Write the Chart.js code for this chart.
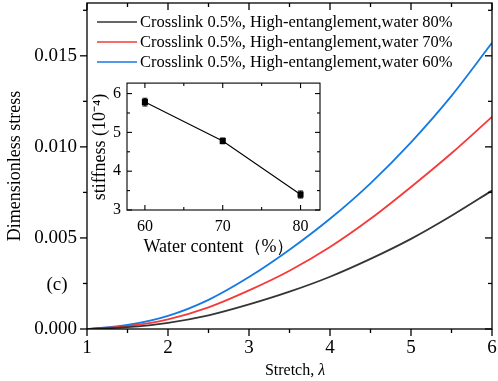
<!DOCTYPE html>
<html><head><meta charset="utf-8">
<script src="https://cdn.jsdelivr.net/npm/chart.js@4"></script>
<style>
html,body{margin:0;padding:0;background:#fff;}
#wrap{position:relative;width:498px;height:381px;overflow:hidden;}
#main{position:absolute;left:0;top:0;}
#inset{position:absolute;left:85px;top:78px;}
</style></head><body>
<div id="wrap">
<canvas id="main" width="498" height="381"></canvas>
<canvas id="inset" width="245" height="185"></canvas>
</div>
<script>
// ---------- data ----------
const stretch  = [1, 1.5, 2, 2.5, 3, 3.5, 4, 4.5, 5, 5.5, 6];
const water80  = [0, 0.00010, 0.00034, 0.00075, 0.00135, 0.00205, 0.00287, 0.00385, 0.00495, 0.00622, 0.00760];
const water70  = [0, 0.00016, 0.00053, 0.00119, 0.00212, 0.00320, 0.00450, 0.00605, 0.00780, 0.00965, 0.01165];
const water60  = [0, 0.00022, 0.00072, 0.00160, 0.00285, 0.00435, 0.00605, 0.00800, 0.01025, 0.01280, 0.01571];
const seriesLabels = [
  'Crosslink 0.5%, High-entanglement,water 80%',
  'Crosslink 0.5%, High-entanglement,water 70%',
  'Crosslink 0.5%, High-entanglement,water 60%'
];
const xTicks = [1, 2, 3, 4, 5, 6];
const xMinorTicks = [1.5, 2.5, 3.5, 4.5, 5.5];
const yTicks = [0, 0.005, 0.010, 0.015];
const yMinorTicks = [0.0025, 0.0075, 0.0125, 0.0175];

const waterContent  = [60, 70, 80];
const stiffness     = [5.78, 4.78, 3.40];
const stiffnessErr  = [0.10, 0.07, 0.09];
const insetXTicks = [60, 70, 80];
const insetXMinor = [65, 75];
const insetYTicks = [3, 4, 5, 6];
const insetYMinor = [3.5, 4.5, 5.5];

const SERIF = '"Liberation Serif", "Times New Roman", serif';
const colors = ['#353535', '#f63a3a', '#1479e4'];

function pts(xs, ys){ return xs.map((x,i)=>({x:x, y:ys[i]})); }
function noPad(s){ s.paddingTop = 0; s.paddingBottom = 0; s.paddingLeft = 0; s.paddingRight = 0; }

function framePlugin(id, cfg){
  return {
    id: id,
    afterDraw(chart){
      const {ctx, chartArea:a, scales:{x, y}} = chart;
      ctx.save();
      ctx.strokeStyle = '#000';
      ctx.lineWidth = cfg.lw;
      ctx.strokeRect(a.left, a.top, a.right - a.left, a.bottom - a.top);
      const bdir = cfg.outBL ? 1 : -1;
      function tx(v, len){
        const p = x.getPixelForValue(v);
        ctx.beginPath(); ctx.moveTo(p, a.bottom); ctx.lineTo(p, a.bottom + bdir*len); ctx.stroke();
        ctx.beginPath(); ctx.moveTo(p, a.top); ctx.lineTo(p, a.top + len); ctx.stroke();
      }
      function ty(v, len){
        const p = y.getPixelForValue(v);
        ctx.beginPath(); ctx.moveTo(a.left, p); ctx.lineTo(a.left - bdir*len, p); ctx.stroke();
        ctx.beginPath(); ctx.moveTo(a.right, p); ctx.lineTo(a.right - len, p); ctx.stroke();
      }
      cfg.xMajor.forEach(v=>tx(v, cfg.major));
      cfg.xMinor.forEach(v=>tx(v, cfg.minor));
      cfg.yMajor.forEach(v=>ty(v, cfg.major));
      cfg.yMinor.forEach(v=>{ if (v <= y.max) ty(v, cfg.minor); });
      ctx.restore();
    }
  };
}

const mainText = {
  id: 'mainText',
  afterDraw(chart){
    const ctx = chart.ctx;
    ctx.save();
    // legend
    const rows = [22, 42, 62];
    ctx.font = '16.5px ' + SERIF;
    ctx.textBaseline = 'middle';
    ctx.textAlign = 'left';
    chart.data.datasets.forEach((ds, i) => {
      ctx.strokeStyle = ds.borderColor;
      ctx.lineWidth = 1.6;
      ctx.beginPath(); ctx.moveTo(97, rows[i]); ctx.lineTo(137, rows[i]); ctx.stroke();
      ctx.fillStyle = '#000';
      ctx.fillText(ds.label, 140, rows[i] + 1);
    });
    // (c)
    ctx.font = '19px ' + SERIF;
    ctx.textAlign = 'center';
    ctx.fillText('(c)', 57, 285);
    // y title
    ctx.save();
    ctx.translate(15, 166);
    ctx.rotate(-Math.PI/2);
    ctx.font = '18px ' + SERIF;
    ctx.textAlign = 'center';
    ctx.fillText('Dimensionless stress', 0, 0);
    ctx.restore();
    // x title
    ctx.font = '16px ' + SERIF;
    ctx.textAlign = 'left';
    const t1 = 'Stretch, ';
    const w1 = ctx.measureText(t1).width;
    ctx.font = 'italic 16px ' + SERIF;
    const w2 = ctx.measureText('\u03bb').width;
    const x0 = 295 - (w1 + w2)/2;
    ctx.font = '16px ' + SERIF;
    ctx.fillText(t1, x0, 371);
    ctx.font = 'italic 16px ' + SERIF;
    ctx.fillText('\u03bb', x0 + w1, 371);
    ctx.restore();
  }
};

new Chart(document.getElementById('main'), {
  type: 'line',
  data: {
    datasets: [
      {label: seriesLabels[0], data: pts(stretch, water80), borderColor: colors[0]},
      {label: seriesLabels[1], data: pts(stretch, water70), borderColor: colors[1]},
      {label: seriesLabels[2], data: pts(stretch, water60), borderColor: colors[2]}
    ].map(d => Object.assign(d, {borderWidth: 1.8, pointRadius: 0, cubicInterpolationMode: 'monotone', fill: false}))
  },
  options: {
    responsive: false, animation: false, devicePixelRatio: 1,
    layout: {padding: {left: 0, right: 6, top: 3, bottom: 0}},
    plugins: {legend: {display: false}, tooltip: {enabled: false}},
    scales: {
      x: {
        type: 'linear', min: 1, max: 6,
        afterBuildTicks: s => { s.ticks = xTicks.map(v => ({value: v})); },
        afterFit: s => { s.height = 52; noPad(s); },
        grid: {display: false, drawTicks: false}, border: {display: false},
        ticks: {font: {family: SERIF, size: 19}, color: '#000', padding: 8, maxRotation: 0, autoSkip: false}
      },
      y: {
        type: 'linear', min: 0, max: 0.0179,
        afterBuildTicks: s => { s.ticks = yTicks.map(v => ({value: v})); },
        afterFit: s => { s.width = 87; noPad(s); },
        grid: {display: false, drawTicks: false}, border: {display: false},
        ticks: {font: {family: SERIF, size: 19}, color: '#000', padding: 10, autoSkip: false,
                callback: v => v.toFixed(3)}
      }
    }
  },
  plugins: [framePlugin('mainFrame', {lw: 1.3, outBL: true, major: 7, minor: 4,
             xMajor: xTicks, xMinor: xMinorTicks, yMajor: yTicks, yMinor: yMinorTicks}), mainText]
});

// ---------- inset ----------
const insetBg = {
  id: 'insetBg',
  beforeDraw(chart){
    const {ctx, chartArea:a} = chart;
    ctx.save(); ctx.fillStyle = '#fff';
    ctx.fillRect(a.left, a.top, a.right - a.left, a.bottom - a.top);
    ctx.restore();
  }
};
const errorBars = {
  id: 'errorBars',
  afterDatasetsDraw(chart){
    const {ctx, scales:{x, y}} = chart;
    ctx.save(); ctx.strokeStyle = '#000'; ctx.lineWidth = 1.2;
    waterContent.forEach((w, i) => {
      const px = x.getPixelForValue(w);
      const y1 = y.getPixelForValue(stiffness[i] + stiffnessErr[i]);
      const y2 = y.getPixelForValue(stiffness[i] - stiffnessErr[i]);
      ctx.beginPath();
      ctx.moveTo(px, y1); ctx.lineTo(px, y2);
      ctx.moveTo(px - 2.5, y1); ctx.lineTo(px + 2.5, y1);
      ctx.moveTo(px - 2.5, y2); ctx.lineTo(px + 2.5, y2);
      ctx.stroke();
    });
    ctx.restore();
  }
};
const insetText = {
  id: 'insetText',
  afterDraw(chart){
    const ctx = chart.ctx;
    ctx.save();
    ctx.fillStyle = '#000';
    ctx.textBaseline = 'middle';
    ctx.textAlign = 'center';
    ctx.font = '18px ' + SERIF;
    ctx.fillText('Water content\uff08%\uff09', 219 - 85, 247 - 78);
    ctx.translate(100 - 85, 147 - 78);
    ctx.rotate(-Math.PI/2);
    ctx.font = '18px ' + SERIF;
    ctx.fillText('stiffness (10\u207b\u2074)', 0, 0);
    ctx.restore();
  }
};

new Chart(document.getElementById('inset'), {
  type: 'line',
  data: {
    datasets: [{
      label: 'stiffness',
      data: pts(waterContent, stiffness),
      borderColor: '#000', borderWidth: 1.1, tension: 0,
      pointStyle: 'rect', pointRadius: 3.5, pointBackgroundColor: '#000', pointBorderColor: '#000'
    }]
  },
  options: {
    responsive: false, animation: false, devicePixelRatio: 1,
    layout: {padding: {left: 0, right: 245 - 235, top: 5, bottom: 0}},
    plugins: {legend: {display: false}, tooltip: {enabled: false}},
    scales: {
      x: {
        type: 'linear', min: 57.7, max: 82.5,
        afterBuildTicks: s => { s.ticks = insetXTicks.map(v => ({value: v})); },
        afterFit: s => { s.height = 185 - 132; noPad(s); },
        grid: {display: false, drawTicks: false}, border: {display: false},
        ticks: {font: {family: SERIF, size: 16}, color: '#000', padding: 7, maxRotation: 0, autoSkip: false}
      },
      y: {
        type: 'linear', min: 3, max: 6.27,
        afterBuildTicks: s => { s.ticks = insetYTicks.map(v => ({value: v})); },
        afterFit: s => { s.width = 127 - 85; noPad(s); },
        grid: {display: false, drawTicks: false}, border: {display: false},
        ticks: {font: {family: SERIF, size: 16}, color: '#000', padding: 6, autoSkip: false}
      }
    }
  },
  plugins: [insetBg, framePlugin('insetFrame', {lw: 1.1, outBL: false, major: 5, minor: 3,
             xMajor: insetXTicks, xMinor: insetXMinor, yMajor: insetYTicks, yMinor: insetYMinor}),
            errorBars, insetText]
});
</script>
</body></html>
